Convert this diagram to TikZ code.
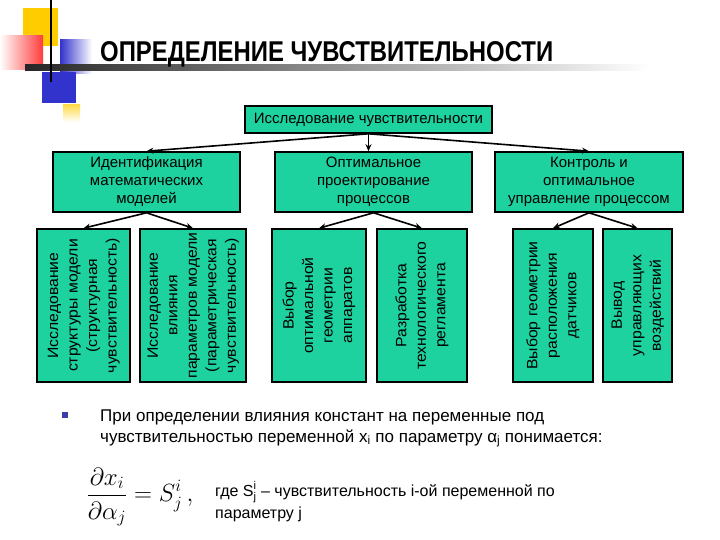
\documentclass[tikz,border=0pt]{standalone}
\usepackage{amsmath}
\usepackage{fontspec}
\setmainfont{Liberation Sans}
\usetikzlibrary{arrows.meta}
\definecolor{boxgreen}{RGB}{30,210,160}
\definecolor{decoyellow}{RGB}{255,204,0}
\definecolor{decored}{RGB}{255,60,60}
\definecolor{decoblue}{RGB}{50,50,205}
\definecolor{bulletblue}{RGB}{60,60,170}
\newcommand{\myvlines}[1]{\scalebox{1.05}[1]{\begin{tabular}{@{}c@{}}#1\end{tabular}}}
\tikzset{
  box/.style={draw=black, line width=1.6pt, fill=boxgreen, inner sep=0pt},
  lvltwo/.style={font=\fontsize{15}{18}\selectfont, align=center},
  vtext/.style={rotate=90, font=\fontsize{15}{19.5}\selectfont, inner sep=0pt},
  arr/.style={line width=1.6pt, -{Stealth[length=7pt,width=6pt]}}
}
\begin{document}
\begin{tikzpicture}[x=1pt,y=-1pt]
\useasboundingbox (0,0) rectangle (720,540);
% decorations
\fill[decoyellow] (23,8) rectangle (58,46);
\shade[left color=white, right color=decored] (0,36) rectangle (43,70);
\shade[left color=decoblue, right color=white] (60,40) rectangle (92,74);
\shade[left color=black!85, right color=white] (25,65) rectangle (650,71);
\fill[decoblue] (42,72) rectangle (76,103);
\shade[top color=decoyellow!70, bottom color=white] (63,105) rectangle (80,122);
\draw[line width=2pt] (51,0) -- (51,82);
\node[anchor=base west, inner sep=0pt] (title) at (100,62) {\resizebox{453pt}{20pt}{\bfseries ОПРЕДЕЛЕНИЕ ЧУВСТВИТЕЛЬНОСТИ}};
% top box
\node[box, minimum width=247pt, minimum height=27pt, font=\fontsize{15}{18}\selectfont] (top) at (368.5,119.5) {Исследование чувствительности};
% level 2
\node[box, minimum width=187pt, minimum height=60pt, lvltwo] (L) at (146.5,182) {Идентификация\\математических\\моделей};
\node[box, minimum width=197pt, minimum height=60pt, lvltwo] (M) at (373.5,182) {Оптимальное\\проектирование\\процессов};
\node[box, minimum width=188pt, minimum height=60pt, lvltwo] (R) at (589,182) {Контроль и\\оптимальное\\управление процессом};
% level 3
\node[box, minimum width=93pt, minimum height=153pt] (B1) at (83.5,305.5) {};
\node[box, minimum width=106pt, minimum height=153pt] (B2) at (193,305.5) {};
\node[box, minimum width=94pt, minimum height=153pt] (B3) at (319,305.5) {};
\node[box, minimum width=90pt, minimum height=153pt] (B4) at (422,305.5) {};
\node[box, minimum width=80pt, minimum height=153pt] (B5) at (553,305.5) {};
\node[box, minimum width=69pt, minimum height=153pt] (B6) at (637.5,305.5) {};
\node[vtext] (B1t) at (B1) {\myvlines{Исследование\\структуры модели\\(структурная\\чувствительность)}};
\node[vtext] (B2t) at (B2) {\myvlines{Исследование\\влияния\\параметров модели\\(параметрическая\\чувствительность)}};
\node[vtext] (B3t) at (B3) {\myvlines{Выбор\\оптимальной\\геометрии\\аппаратов}};
\node[vtext] (B4t) at (B4) {\myvlines{Разработка\\технологического\\регламента}};
\node[vtext] (B5t) at (B5) {\myvlines{Выбор геометрии\\расположения\\датчиков}};
\node[vtext] (B6t) at (B6) {\myvlines{Вывод\\управляющих\\воздействий}};
% connectors
\draw[arr] (top.south) -- (L.north);
\draw[arr] (top.south) -- (top.south |- M.north);
\draw[arr] (top.south) -- (R.north);
\draw[arr] (L.south) -- (B1.north);
\draw[arr] (L.south) -- (B2.north);
\draw[arr] (M.south) -- (B3.north);
\draw[arr] (M.south) -- (B4.north);
\draw[arr] (R.south) -- (B5.north);
\draw[arr] (R.south) -- (B6.north);
% bullet text
\fill[bulletblue] (62,412) rectangle (68,418) node[coordinate] (bul) {};
\node[anchor=base west, inner sep=0pt, align=left, font=\fontsize{17}{21}\selectfont] (btext) at (100,442) {При определении влияния констант на переменные под\\чувствительностью переменной x\textsubscript{i} по параметру α\textsubscript{j} понимается:};
\node[inner sep=0pt, font=\fontsize{26}{30}\selectfont] (formula) at (140,497) {$\displaystyle \frac{\partial x_i}{\partial \alpha_j} = S_j^i\,,$};
\node[anchor=base west, inner sep=0pt, align=left, font=\fontsize{16}{22}\selectfont] (where) at (215,518) {где $\text{S}^{\text{i}}_{\text{j}}$ – чувствительность i-ой переменной по\\параметру j};
\end{tikzpicture}
\end{document}
